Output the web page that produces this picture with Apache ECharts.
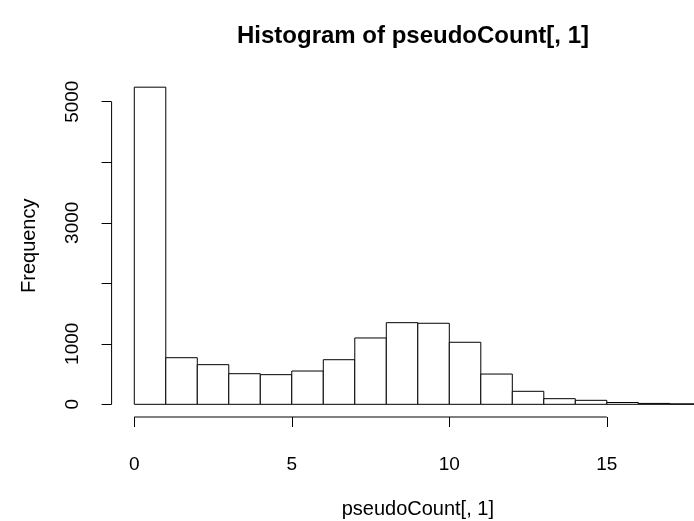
<!DOCTYPE html>
<html>
<head>
<meta charset="utf-8">
<script src="https://cdn.jsdelivr.net/npm/echarts@6/dist/echarts.min.js"></script>
<style>html,body{margin:0;padding:0;background:#fff;}#chart{width:694px;height:521px;}</style>
</head>
<body>
<div id="chart"></div>
<script>
// Histogram data (bin width 1)
var binStarts = [0,1,2,3,4,5,6,7,8,9,10,11,12,13,14,15,16,17];
var counts    = [5240,770,655,506,490,550,737,1096,1349,1339,1025,500,215,93,66,30,15,8];
var xTicks = [0,5,10,15];
var yTicks = [0,1000,2000,3000,4000,5000];
var yLabels = [0,1000,3000,5000];
var titleText = 'Histogram of pseudoCount[, 1]';
var xName = 'pseudoCount[, 1]';
var yName = 'Frequency';

var binWidth = 1;
var xLo = binStarts[0], xHi = binStarts[binStarts.length-1] + binWidth;
var xPad = (xHi - xLo) * 0.04;
var yMaxC = Math.max.apply(null, counts);
var yPad = yMaxC * 0.04;

var barData = binStarts.map(function(s, i){ return [s, s + binWidth, counts[i]]; });

var FONT = '"Liberation Sans", Arial, Helvetica, sans-serif';
var chart = echarts.init(document.getElementById('chart'), null, {renderer:'canvas'});
chart.setOption({
  animation: false,
  backgroundColor: '#ffffff',
  title: {
    text: titleText,
    left: 413, top: 24, textAlign: 'center', padding: 0,
    textStyle: {fontFamily: FONT, fontSize: 24, fontWeight: 'bold', color: '#000'}
  },
  grid: {left: 111.6, width: 612.4, top: 74.5, height: 342.5, containLabel: false, outerBoundsMode: 'none'},
  xAxis: {
    type: 'value', min: xLo - xPad, max: xHi + xPad,
    name: xName, nameLocation: 'middle', nameGap: 82,
    nameTextStyle: {fontFamily: FONT, fontSize: 20, color: '#000'},
    axisLine: {show: false, onZero: false},
    splitLine: {show: false},
    axisTick: {show: true, length: 10, customValues: xTicks, lineStyle: {color:'#000', width: 1}},
    axisLabel: {customValues: xTicks, margin: 38, fontFamily: FONT, fontSize: 19, color: '#000',
      formatter: function(v){ return String(v); }}
  },
  yAxis: {
    type: 'value', min: -yPad, max: yMaxC + yPad,
    name: yName, nameLocation: 'middle', nameGap: 72, nameRotate: 90,
    nameTextStyle: {fontFamily: FONT, fontSize: 20, color: '#000'},
    axisLine: {show: false, onZero: false},
    splitLine: {show: false},
    axisTick: {show: true, length: 10, customValues: yTicks, lineStyle: {color:'#000', width: 1}},
    axisLabel: {customValues: yLabels, rotate: 90, margin: 29, fontFamily: FONT, fontSize: 19, color: '#000',
      formatter: function(v){ return String(v); }}
  },
  series: [
    {
      type: 'custom', name: 'bars', clip: true,
      encode: {x: [0, 1], y: 2},
      data: barData,
      renderItem: function(params, api){
        var p0 = api.coord([api.value(0), api.value(2)]);
        var p1 = api.coord([api.value(1), 0]);
        return {
          type: 'rect',
          shape: {x: p0[0], y: p0[1], width: p1[0] - p0[0], height: p1[1] - p0[1]},
          style: {fill: '#ffffff', stroke: '#000000', lineWidth: 1}
        };
      }
    },
    {
      type: 'custom', name: 'axes', silent: true, clip: false,
      data: [[xTicks[0], yTicks[0], xTicks[xTicks.length-1], yTicks[yTicks.length-1]]],
      encode: {x: [0, 2], y: [1, 3]},
      renderItem: function(params, api){
        var cs = params.coordSys;
        var bottom = cs.y + cs.height;
        var left = cs.x;
        var xa = api.coord([api.value(0), 0])[0];
        var xb = api.coord([api.value(2), 0])[0];
        var ya = api.coord([0, api.value(1)])[1];
        var yb = api.coord([0, api.value(3)])[1];
        return {
          type: 'group',
          children: [
            {type: 'line', shape: {x1: xa, y1: bottom, x2: xb, y2: bottom}, style: {stroke: '#000', lineWidth: 1}},
            {type: 'line', shape: {x1: left, y1: ya, x2: left, y2: yb}, style: {stroke: '#000', lineWidth: 1}}
          ]
        };
      }
    }
  ]
});
</script>
</body>
</html>
